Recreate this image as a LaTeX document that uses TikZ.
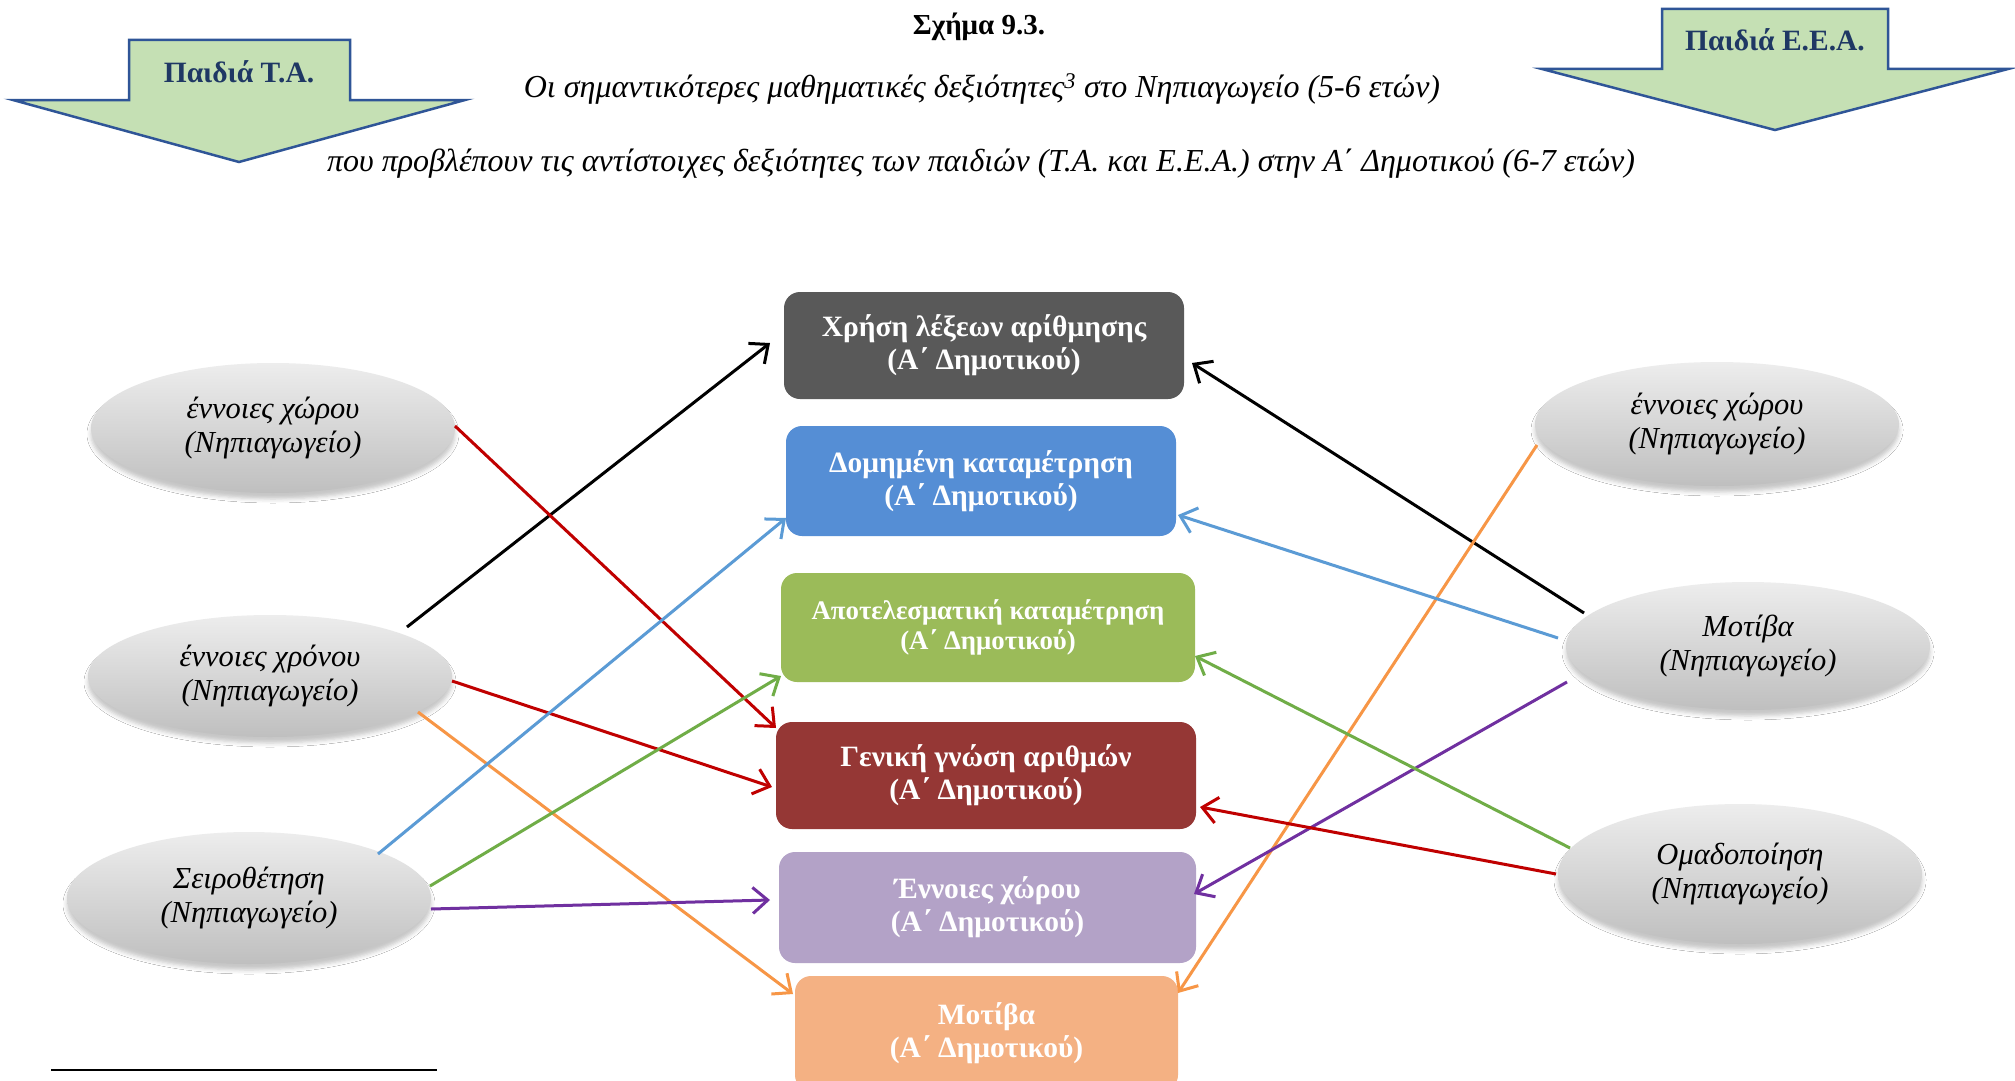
\documentclass[tikz,border=0pt]{standalone}
\usepackage{fontspec}
\setmainfont{Liberation Serif}
\usetikzlibrary{arrows.meta,shadows.blur,shapes.geometric}

% box fills
\definecolor{boxgray}{HTML}{595959}
\definecolor{boxblue}{HTML}{558ED5}
\definecolor{boxgreen}{HTML}{9BBB59}
\definecolor{boxred}{HTML}{953735}
\definecolor{boxlav}{HTML}{B3A2C7}
\definecolor{boxorange}{HTML}{F4B183}
% connector colours
\definecolor{lnred}{HTML}{C00000}
\definecolor{lnblue}{HTML}{5B9BD5}
\definecolor{lngreen}{HTML}{70AD47}
\definecolor{lnpurple}{HTML}{7030A0}
\definecolor{lnorange}{HTML}{F79646}
% ellipses and banner arrows
\definecolor{ellTop}{HTML}{EDEDED}
\definecolor{ellBot}{HTML}{BFBFBF}
\definecolor{bannerFill}{HTML}{C5E0B4}
\definecolor{bannerLine}{HTML}{2F5597}
\definecolor{bannerText}{HTML}{1F3864}

\newcommand\fsbox{\fontsize{29.5}{33}\selectfont}
\newcommand\fsboxs{\fontsize{26.8}{30}\selectfont}
\newcommand\fsell{\fontsize{30.5}{34}\selectfont}
\newcommand\fscap{\fontsize{32}{36}\selectfont}
\newcommand\fsban{\fontsize{29.5}{33}\selectfont}

\begin{document}
\begin{tikzpicture}[x=1pt,y=-1pt,
  skill/.style={ellipse, minimum width=364pt, minimum height=130pt, inner sep=0pt,
    top color=ellTop, bottom color=ellBot, align=center, font=\itshape\fsell,
    blur shadow={shadow xshift=0pt, shadow yshift=-6pt, shadow blur radius=4pt, shadow opacity=22}},
  goal/.style={rectangle, rounded corners=16pt, inner sep=0pt, text=white,
    align=center, font=\bfseries\fsbox},
  link/.style={line width=3pt, -{Straight Barb[length=15pt,width=26pt]}},
  banner/.style={fill=bannerFill, draw=bannerLine, line width=2.5pt, line join=miter},
  bannerlabel/.style={font=\bfseries\fsban, text=bannerText},
]
\clip (0,0) rectangle (2015,1081);
\fill[white] (0,0) rectangle (2015,1081);

% heading
\node[font=\bfseries\fontsize{29}{34}\selectfont] (title) at (979,27) {Σχήμα 9.3.};
\node[font=\itshape\fscap] (sub1) at (982,89)
  {Οι σημαντικότερες μαθηματικές δεξιότητες\textsuperscript{3} στο Νηπιαγωγείο (5-6 ετών)};
\node[font=\itshape\fscap] (sub2) at (981,164)
  {που προβλέπουν τις αντίστοιχες δεξιότητες των παιδιών (Τ.Α. και Ε.Ε.Α.) στην Α΄ Δημοτικού (6-7 ετών)};

% banner arrows
\draw[banner] (129,40) -- (350,40) -- (350,100) -- (465,100) -- (239,162)
  -- (13,100) -- (129,100) -- cycle;
\node[bannerlabel] (ta) at (239,72) {Παιδιά Τ.Α.};
\draw[banner] (1662,9) -- (1888,9) -- (1888,69) -- (2008,69) -- (1775,130)
  -- (1542,69) -- (1662,69) -- cycle;
\node[bannerlabel] (eea) at (1775,40) {Παιδιά Ε.Ε.Α.};

% kindergarten skills, left
\node[skill] (e1) at (273,428) {έννοιες χώρου\\(Νηπιαγωγείο)};
\node[skill, minimum height=122pt] (e2) at (270,676) {έννοιες χρόνου\\(Νηπιαγωγείο)};
\node[skill, minimum height=132pt] (e3) at (249,898) {Σειροθέτηση\\(Νηπιαγωγείο)};
% kindergarten skills, right
\node[skill, minimum height=124pt] (r1) at (1717,424) {έννοιες χώρου\\(Νηπιαγωγείο)};
\node[skill, minimum height=128pt] (r2) at (1748,646) {Μοτίβα\\(Νηπιαγωγείο)};
\node[skill, minimum height=140pt] (r3) at (1740,874) {Ομαδοποίηση\\(Νηπιαγωγείο)};

% first-grade skills
\node[goal, fill=boxgray, minimum width=400pt, minimum height=107pt] (b1) at (984,345.5)
  {Χρήση λέξεων αρίθμησης\\(Α΄ Δημοτικού)};
\node[goal, fill=boxblue, minimum width=390pt, minimum height=110pt] (b2) at (981,481)
  {Δομημένη καταμέτρηση\\(Α΄ Δημοτικού)};
\node[goal, fill=boxgreen, minimum width=414pt, minimum height=109pt, font=\bfseries\fsboxs] (b3) at (988,627.5)
  {Αποτελεσματική καταμέτρηση\\(Α΄ Δημοτικού)};
\node[goal, fill=boxred, minimum width=420pt, minimum height=107pt] (b4) at (986,775.5)
  {Γενική γνώση αριθμών\\(Α΄ Δημοτικού)};
\node[goal, fill=boxlav, minimum width=417pt, minimum height=111pt] (b5) at (987.5,907.5)
  {Έννοιες χώρου\\(Α΄ Δημοτικού)};
\node[goal, fill=boxorange, minimum width=383pt, minimum height=115pt] (b6) at (986.5,1033.5)
  {Μοτίβα\\(Α΄ Δημοτικού)};

% connectors
\draw[link, black]    ([shift={(137,-49)}]e2.center) -- ([shift={(-214,-2.5)}]b1.center);
\draw[link, black]    ([shift={(-164,-33)}]r2.center) -- ([shift={(208,17.5)}]b1.center);
\draw[link, lnred]    ([shift={(182,-2)}]e1.center)   -- ([shift={(-210,-47.5)}]b4.center);
\draw[link, lnred]    ([shift={(182,5)}]e2.center)    -- ([shift={(-214,11.5)}]b4.center);
\draw[link, lnorange] ([shift={(148,36)}]e2.center)   -- ([shift={(-193.5,-39.5)}]b6.center);
\draw[link, lnblue]   ([shift={(129,-44)}]e3.center)  -- ([shift={(-195,37)}]b2.center);
\draw[link, lngreen]  ([shift={(181,-12)}]e3.center)  -- ([shift={(-207,48.5)}]b3.center);
\draw[link, lnpurple] ([shift={(182,11)}]e3.center)   -- ([shift={(-217.5,-7.5)}]b5.center);
\draw[link, lnorange] ([shift={(-180,21)}]r1.center)  -- ([shift={(191.5,-40.5)}]b6.center);
\draw[link, lnblue]   ([shift={(-190,-8)}]r2.center)  -- ([shift={(197,34)}]b2.center);
\draw[link, lnpurple] ([shift={(-181,36)}]r2.center)  -- ([shift={(206.5,-13.5)}]b5.center);
\draw[link, lngreen]  ([shift={(-170,-26)}]r3.center) -- ([shift={(207,28.5)}]b3.center);
\draw[link, lnred]    ([shift={(-184,0)}]r3.center)   -- ([shift={(214,31.5)}]b4.center);

% footnote rule
\coordinate (fnl) at (51,1070);
\coordinate (fnr) at (437,1070);
\draw[line width=2.5pt] (fnl) -- (fnr);
\end{tikzpicture}
\end{document}
